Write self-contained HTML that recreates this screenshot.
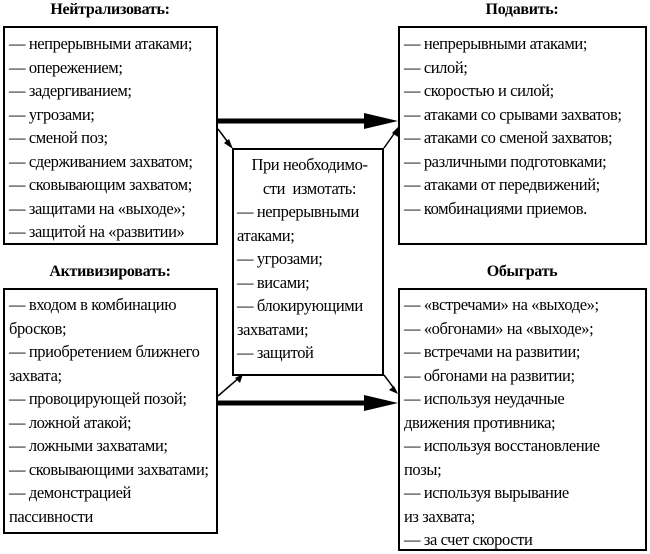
<!DOCTYPE html>
<html><head><meta charset="utf-8"><style>
body{margin:0;width:650px;height:554px;background:#fff;position:relative;overflow:hidden;font-family:"Liberation Serif","DejaVu Serif",serif;font-size:16.5px;color:#000}
.b{position:absolute;border:2px solid #000;box-sizing:border-box;line-height:23.5px;padding:0 0 0 4px;letter-spacing:-0.4px}
.t{position:absolute;font-weight:bold;font-size:16px;text-align:center;letter-spacing:-0.3px}
svg{position:absolute;left:0;top:0}
</style></head><body>
<div class="t" style="left:3px;width:214px;top:1px">Нейтрализовать:</div>
<div class="t" style="left:398px;width:248px;top:1px">Подавить:</div>
<div class="t" style="left:3px;width:214px;top:263px">Активизировать:</div>
<div class="t" style="left:398px;width:248px;top:263px">Обыграть</div>

<div class="b" style="left:3px;top:26px;width:215px;height:219px;padding-top:4px">— непрерывными атаками;<br>— опережением;<br>— задергиванием;<br>— угрозами;<br>— сменой поз;<br>— сдерживанием захватом;<br>— сковывающим захватом;<br>— защитами на «выходе»;<br>— защитой на «развитии»</div>

<div class="b" style="left:398px;top:26px;width:249px;height:219px;padding-top:4px">— непрерывными атаками;<br>— силой;<br>— скоростью и силой;<br>— атаками со срывами захватов;<br>— атаками со сменой захватов;<br>— различными подготовками;<br>— атаками от передвижений;<br>— комбинациями приемов.</div>

<div class="b" style="left:3px;top:288px;width:215px;height:246px;padding-top:3px">— входом в комбинацию<br>бросков;<br>— приобретением ближнего<br>захвата;<br>— провоцирующей позой;<br>— ложной атакой;<br>— ложными захватами;<br>— сковывающими захватами;<br>— демонстрацией<br>пассивности</div>

<div class="b" style="left:398px;top:288px;width:249px;height:263px;padding-top:3px">— «встречами» на «выходе»;<br>— «обгонами» на «выходе»;<br>— встречами на развитии;<br>— обгонами на развитии;<br>— используя неудачные<br>движения противника;<br>— используя восстановление<br>позы;<br>— используя вырывание<br>из захвата;<br>— за счет скорости</div>

<div class="b" style="left:232px;top:148px;width:152px;height:228px;padding:3px 0 0 3px;line-height:23.5px"><div style="text-align:center">При необходимо-<br>сти&nbsp; измотать:</div>— непрерывными<br>атаками;<br>— угрозами;<br>— висами;<br>— блокирующими<br>захватами;<br>— защитой</div>

<svg width="650" height="554">
<line x1="218" y1="121" x2="368" y2="121" stroke="#000" stroke-width="5"/>
<polygon points="364,113 398,121 364,129" fill="#000"/>
<line x1="218" y1="403" x2="368" y2="403" stroke="#000" stroke-width="5"/>
<polygon points="364,395 398,403 364,411" fill="#000"/>
<g stroke="#000" stroke-width="1.5">
<line x1="218" y1="129" x2="230" y2="145"/>
<line x1="384" y1="148" x2="396" y2="131"/>
<line x1="218" y1="396" x2="240" y2="377"/>
<line x1="384" y1="375" x2="396" y2="391"/>
</g>
<g fill="#000">
<polygon points="233,149 224,143 229,139"/>
<polygon points="398,127 398,137 392,133"/>
<polygon points="243,374 240,383 235,378"/>
<polygon points="398,394 389,390 394,386"/>
</g>
</svg>
</body></html>
